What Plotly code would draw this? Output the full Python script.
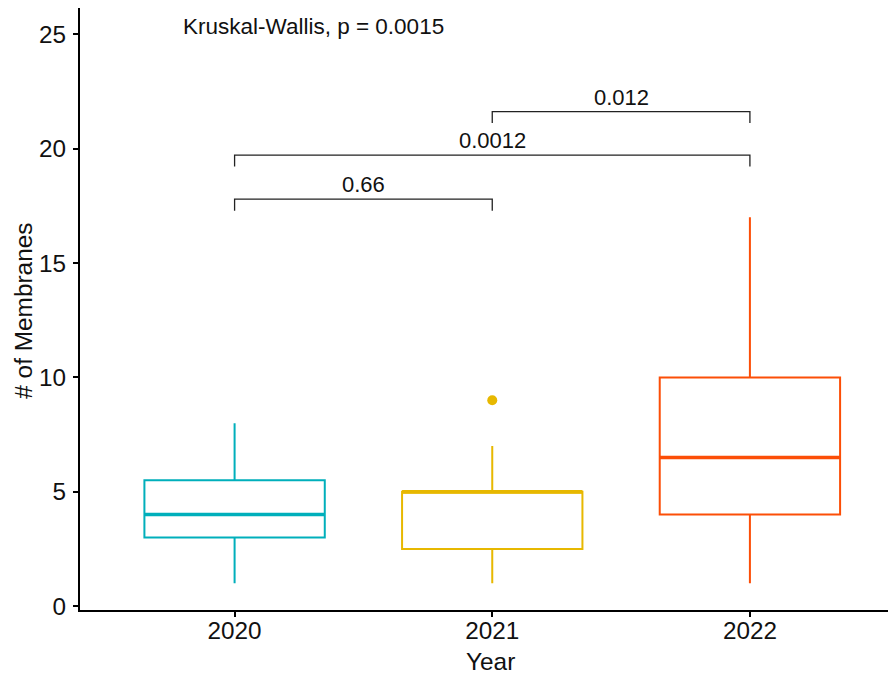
import plotly.graph_objects as go

years = ["2020", "2021", "2022"]
colors = ["#00AFBB", "#E7B800", "#FC4E07"]
q1 = [3.0, 2.5, 4.0]
median = [4.0, 5.0, 6.5]
q3 = [5.5, 5.0, 10.0]
lower = [1.0, 1.0, 1.0]
upper = [8.0, 7.0, 17.0]
outlier_year = [1]
outlier_val = [9.0]

# pairwise comparisons: (group a, group b, bracket height, label)
cmp_a = [0, 0, 1]
cmp_b = [1, 2, 2]
cmp_y = [17.79, 19.72, 21.62]
cmp_lab = ["0.66", "0.0012", "0.012"]
tip = 0.5
kw_text = "Kruskal-Wallis, p = 0.0015"

FONT = "Liberation Sans, Arial, sans-serif"
BW = 0.7

# page layout (browser body has an 8px margin)
PL, PR, PT, PB = 80, 896, 8, 610.5


def px(xp):
    return (xp - PL) / (PR - PL)


def py(yp):
    return (PB - yp) / (PB - PT)


fig = go.Figure()
for i, yr in enumerate(years):
    fig.add_trace(go.Box(
        x=[i], q1=[q1[i]], median=[median[i]], q3=[q3[i]],
        lowerfence=[lower[i]], upperfence=[upper[i]],
        width=BW, whiskerwidth=0, boxpoints=False,
        line=dict(color=colors[i], width=2),
        fillcolor="rgba(0,0,0,0)", name=yr, showlegend=False,
        hoverinfo="skip"))
    fig.add_trace(go.Scatter(
        x=[i - BW / 2, i + BW / 2], y=[median[i], median[i]],
        mode="lines", line=dict(color=colors[i], width=3.5),
        showlegend=False, hoverinfo="skip"))

fig.add_trace(go.Scatter(
    x=outlier_year, y=outlier_val, mode="markers",
    marker=dict(color=colors[1], size=10), showlegend=False))

for a, b, h, lab in zip(cmp_a, cmp_b, cmp_y, cmp_lab):
    fig.add_trace(go.Scatter(
        x=[a, a, b, b], y=[h - tip, h, h, h - tip], mode="lines",
        line=dict(color="#222222", width=1.3), showlegend=False,
        hoverinfo="skip"))
    fig.add_annotation(x=(a + b) / 2, y=h, text=lab, showarrow=False,
                       yanchor="bottom", yshift=0,
                       font=dict(family=FONT, size=22, color="#111111"))

fig.add_annotation(xref="paper", yref="paper",
                   x=px(313.5), y=py(27),
                   text=kw_text, showarrow=False, xanchor="center",
                   yanchor="middle",
                   font=dict(family=FONT, size=22.5, color="#111111"))

fig.add_annotation(xref="paper", yref="paper", x=px(24), y=py(311),
                   text="# of Membranes", textangle=-90, showarrow=False,
                   xanchor="center", yanchor="middle",
                   font=dict(family=FONT, size=24.4, color="#111111"))
fig.add_annotation(xref="paper", yref="paper", x=px(490), y=py(662),
                   text="Year", showarrow=False,
                   xanchor="center", yanchor="middle",
                   font=dict(family=FONT, size=24.4, color="#111111"))

fig.update_layout(
    width=888, height=666,
    margin=dict(l=PL - 8, r=0, t=PT - 8, b=674 - PB),
    plot_bgcolor="white", paper_bgcolor="white",
    xaxis=dict(range=[-0.6, 2.567], tickvals=[0, 1, 2], ticktext=years,
               showgrid=False, zeroline=False, showline=True,
               linecolor="black", linewidth=2, ticks="outside",
               ticklen=5, tickwidth=1.5, tickcolor="black",
               ticklabelstandoff=-7,
               tickfont=dict(family=FONT, size=24.3, color="#111111")),
    yaxis=dict(range=[-0.17, 26.15], tickvals=[0, 5, 10, 15, 20, 25],
               showgrid=False, zeroline=False, showline=True,
               linecolor="black", linewidth=2, ticks="outside",
               ticklen=5, tickwidth=1.5, tickcolor="black",
               ticklabelstandoff=2,
               tickfont=dict(family=FONT, size=24.3, color="#111111")),
)

fig.write_html("out.html")
